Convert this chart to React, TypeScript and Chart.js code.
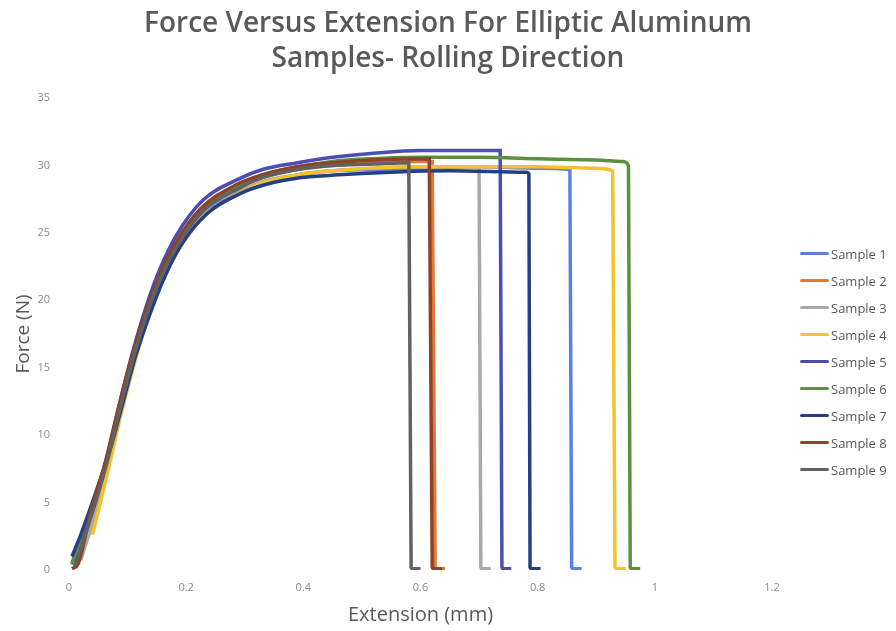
import React, { useEffect, useRef } from 'react';
import { Chart, registerables } from 'chart.js';
Chart.register(...registerables);

const titleLines = ['Force Versus Extension For Elliptic Aluminum', 'Samples- Rolling Direction'];
const xAxisTitle = 'Extension (mm)';
const yAxisTitle = 'Force (N)';
const xTicks = [0, 0.2, 0.4, 0.6, 0.8, 1, 1.2];
const yTicks = [0, 5, 10, 15, 20, 25, 30, 35];

const sampleNames = ['Sample 1', 'Sample 2', 'Sample 3', 'Sample 4', 'Sample 5', 'Sample 6', 'Sample 7', 'Sample 8', 'Sample 9'];
const sampleColors = ['#5B80DF', '#E57839', '#A9A9A9', '#F6C22A', '#4B4DB3', '#5E8F3E', '#243F88', '#8C4327', '#616161'];

const s1X = [0.01, 0.04, 0.065, 0.085, 0.107, 0.133, 0.155, 0.183, 0.228, 0.29, 0.33, 0.39, 0.45, 0.52, 0.60, 0.70, 0.80, 0.855, 0.858, 0.860, 0.875];
const s1Y = [0.3, 4.1, 7.8, 11.4, 15.1, 18.8, 21.3, 23.7, 26.3, 28.0, 28.7, 29.3, 29.6, 29.7, 29.8, 29.9, 29.8, 29.7, 0.2, 0.1, 0.1];

const s2X = [0.01, 0.04, 0.065, 0.085, 0.107, 0.133, 0.155, 0.183, 0.228, 0.29, 0.33, 0.39, 0.45, 0.52, 0.60, 0.62, 0.625, 0.627, 0.642];
const s2Y = [0.2, 4.4, 8.1, 11.7, 15.4, 19.1, 21.6, 24.0, 26.6, 28.4, 29.1, 29.7, 30.0, 30.2, 30.3, 30.3, 0.2, 0.1, 0.1];

const s3X = [0.02, 0.045, 0.068, 0.087, 0.109, 0.135, 0.157, 0.185, 0.23, 0.29, 0.33, 0.39, 0.45, 0.52, 0.60, 0.70, 0.703, 0.705, 0.72];
const s3Y = [0.7, 4.2, 7.9, 11.4, 15.1, 18.8, 21.3, 23.7, 26.3, 28.0, 28.8, 29.3, 29.6, 29.8, 29.9, 29.9, 0.2, 0.1, 0.1];

const s4X = [0.04, 0.045, 0.068, 0.087, 0.109, 0.135, 0.157, 0.185, 0.23, 0.29, 0.33, 0.39, 0.45, 0.52, 0.60, 0.70, 0.80, 0.90, 0.928, 0.932, 0.935, 0.95];
const s4Y = [2.6, 3.5, 7.6, 11.2, 14.9, 18.7, 21.2, 23.6, 26.2, 27.9, 28.7, 29.3, 29.6, 29.8, 29.9, 29.9, 29.9, 29.8, 29.6, 0.2, 0.1, 0.1];

const s5X = [0.005, 0.04, 0.065, 0.085, 0.107, 0.133, 0.155, 0.183, 0.228, 0.29, 0.33, 0.39, 0.45, 0.52, 0.60, 0.65, 0.70, 0.736, 0.739, 0.741, 0.755];
const s5Y = [0.5, 4.6, 8.4, 12.1, 15.9, 19.7, 22.3, 24.8, 27.4, 29.0, 29.7, 30.2, 30.6, 30.9, 31.1, 31.1, 31.1, 31.1, 0.2, 0.1, 0.1];

const s6X = [0.005, 0.04, 0.065, 0.085, 0.107, 0.133, 0.155, 0.183, 0.228, 0.29, 0.33, 0.39, 0.45, 0.52, 0.60, 0.70, 0.80, 0.90, 0.945, 0.955, 0.958, 0.960, 0.975];
const s6Y = [0.4, 4.4, 8.1, 11.7, 15.4, 19.1, 21.7, 24.1, 26.7, 28.5, 29.3, 29.9, 30.3, 30.5, 30.6, 30.6, 30.5, 30.4, 30.3, 30.0, 0.2, 0.1, 0.1];

const s7X = [0.005, 0.02, 0.047, 0.072, 0.092, 0.114, 0.140, 0.162, 0.190, 0.235, 0.297, 0.337, 0.397, 0.46, 0.55, 0.65, 0.78, 0.785, 0.787, 0.789, 0.805];
const s7Y = [1.0, 2.6, 5.9, 9.2, 12.4, 15.9, 19.2, 21.6, 24.0, 26.4, 28.0, 28.6, 29.1, 29.3, 29.5, 29.6, 29.5, 29.4, 0.2, 0.1, 0.1];

const s8X = [0.005, 0.015, 0.037, 0.062, 0.082, 0.104, 0.130, 0.152, 0.180, 0.225, 0.287, 0.33, 0.39, 0.45, 0.52, 0.615, 0.620, 0.622, 0.637];
const s8Y = [0.1, 0.4, 4.3, 8.0, 11.6, 15.3, 19.0, 21.6, 24.1, 26.8, 28.6, 29.3, 29.9, 30.2, 30.4, 30.5, 0.2, 0.1, 0.1];

const s9X = [0.01, 0.04, 0.065, 0.085, 0.107, 0.133, 0.155, 0.183, 0.228, 0.29, 0.33, 0.39, 0.45, 0.52, 0.58, 0.584, 0.586, 0.60];
const s9Y = [0.3, 4.3, 8.0, 11.6, 15.3, 19.0, 21.5, 23.9, 26.6, 28.3, 29.1, 29.7, 30.0, 30.1, 30.2, 0.2, 0.1, 0.1];

const sampleXs = [s1X, s2X, s3X, s4X, s5X, s6X, s7X, s8X, s9X];
const sampleYs = [s1Y, s2Y, s3Y, s4Y, s5Y, s6Y, s7Y, s8Y, s9Y];

const FONT = "'Open Sans', sans-serif";
const TEXT_COLOR = '#595959';
const TICK_COLOR = '#8a8a8a';

export default function App() {
  const canvasRef = useRef<HTMLCanvasElement>(null);

  useEffect(() => {
    const canvas = canvasRef.current;
    if (!canvas) return;
    const datasets = sampleNames.map((name, i) => ({
      label: name,
      data: sampleXs[i].map((x, j) => ({ x, y: sampleYs[i][j] })),
      borderColor: sampleColors[i],
      backgroundColor: sampleColors[i],
      borderWidth: 3.5,
      pointRadius: 0,
      showLine: true,
      fill: false,
      cubicInterpolationMode: 'monotone' as const,
      order: sampleNames.length - i,
      xAxisID: 'x',
      yAxisID: 'y',
    }));

    const chart = new Chart(canvas, {
      type: 'scatter',
      data: { datasets },
      options: {
        animation: false,
        responsive: false,
        maintainAspectRatio: false,
        layout: { padding: 0 },
        plugins: {
          legend: { display: false },
          tooltip: { enabled: false },
          title: {
            display: true,
            text: titleLines,
            color: TEXT_COLOR,
            font: { family: FONT, size: 28, weight: 600, lineHeight: 1.25 },
            padding: { top: 7, bottom: 21 },
          },
        },
        scales: {
          x: {
            type: 'linear',
            position: 'bottom',
            min: 0,
            max: 1.2,
            grid: { display: false, drawTicks: false },
            border: { display: false },
            afterBuildTicks: (scale: any) => {
              scale.ticks = xTicks.map((v) => ({ value: v }));
            },
            afterFit: (scale: any) => {
              scale.height = 61;
            },
            ticks: {
              color: TICK_COLOR,
              font: { family: FONT, size: 11 },
              padding: 11,
              maxRotation: 0,
              autoSkip: false,
              callback: (v: any) => String(Math.round(Number(v) * 10) / 10),
            },
            title: {
              display: true,
              text: xAxisTitle,
              color: TEXT_COLOR,
              font: { family: FONT, size: 20 },
              padding: { top: 0, bottom: 4 },
            },
          },
          y: {
            type: 'linear',
            position: 'left',
            min: 0,
            max: 35,
            grid: { display: false, drawTicks: false },
            border: { display: false },
            afterBuildTicks: (scale: any) => {
              scale.ticks = yTicks.map((v) => ({ value: v }));
            },
            afterFit: (scale: any) => {
              scale.width = 69;
            },
            ticks: {
              color: TICK_COLOR,
              font: { family: FONT, size: 11 },
              padding: 19,
              autoSkip: false,
            },
            title: {
              display: true,
              text: yAxisTitle,
              color: TEXT_COLOR,
              font: { family: FONT, size: 19 },
              padding: { top: 12, bottom: 0 },
            },
          },
          yRight: {
            type: 'linear',
            position: 'right',
            display: true,
            grid: { display: false, drawTicks: false },
            border: { display: false },
            ticks: { display: false },
            afterFit: (scale: any) => {
              scale.width = 124;
            },
          },
        },
      },
    });
    return () => chart.destroy();
  }, []);

  return (
    <div style={{ position: 'absolute', left: 0, top: 0, width: 896, height: 631, background: '#fff' }}>
      <canvas ref={canvasRef} width={896} height={631} style={{ display: 'block' }} />
      <div style={{ position: 'absolute', left: 800, top: 240, fontFamily: FONT, fontSize: 13, color: TEXT_COLOR }}>
        {sampleNames.map((name, i) => (
          <div key={name} style={{ display: 'flex', alignItems: 'center', height: 27, whiteSpace: 'nowrap' }}>
            <span style={{ display: 'inline-block', width: 29, height: 3, background: sampleColors[i], borderRadius: 1.5, marginRight: 2 }} />
            <span>{name}</span>
          </div>
        ))}
      </div>
    </div>
  );
}
